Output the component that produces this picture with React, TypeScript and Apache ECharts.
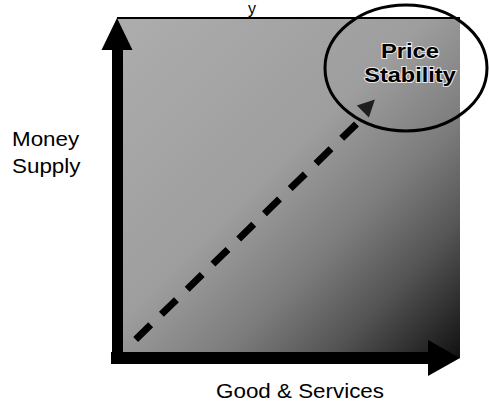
import React, { useEffect, useRef } from "react";
import * as echarts from "echarts";

// Data (in axis units 0–100)
const pathStart: number[] = [6, 6];
const pathEnd: number[] = [77, 76];
const arrowHead: number[] = [81, 82];
const xAxisTitle = "Good & Services";
const yAxisTitle = ["Money", "Supply"];
const targetLabel = ["Price", "Stability"];
const topTitleFragment = "y";

export default function App() {
  const ref = useRef<HTMLDivElement>(null);
  useEffect(() => {
    if (!ref.current) return;
    const chart = echarts.init(ref.current, null, { renderer: "svg" });
    const bg = new echarts.graphic.LinearGradient(0, 0, 1, 1, [
      { offset: 0, color: "#adadad" },
      { offset: 0.45, color: "#9e9e9e" },
      { offset: 0.65, color: "#7c7c7c" },
      { offset: 0.8, color: "#555555" },
      { offset: 1, color: "#111111" },
    ]);
    chart.setOption({
      animation: false,
      backgroundColor: "#ffffff",
      grid: { left: 117, top: 50, right: 61, bottom: 47 },
      xAxis: {
        type: "value",
        min: 0,
        max: 100,
        axisLabel: { show: false },
        axisTick: { show: false },
        splitLine: { show: false },
        axisLine: {
          show: true,
          onZero: false,
          symbol: ["none", "triangle"],
          symbolSize: [36, 32],
          symbolOffset: [0, 16],
          lineStyle: { color: "#000", width: 12, cap: "square" },
        },
      },
      yAxis: {
        type: "value",
        min: 0,
        max: 100,
        axisLabel: { show: false },
        axisTick: { show: false },
        splitLine: { show: false },
        axisLine: {
          show: true,
          onZero: false,
          symbol: ["none", "triangle"],
          symbolSize: [31, 32],
          symbolOffset: [0, 16],
          lineStyle: { color: "#000", width: 11, cap: "square" },
        },
      },
      graphic: [
        {
          type: "rect",
          z: -10,
          shape: { x: 117, y: 18, width: 343, height: 340 },
          style: { fill: bg },
        },
        {
          type: "line",
          z: -9,
          shape: { x1: 117, y1: 18, x2: 460, y2: 18 },
          style: { stroke: "#000", lineWidth: 2 },
        },
        {
          type: "ellipse",
          z: 50,
          shape: { cx: 406, cy: 68, rx: 81, ry: 63 },
          style: { fill: "none", stroke: "#000", lineWidth: 3 },
        },
        {
          type: "text",
          z: 51,
          x: 410,
          y: 40,
          scaleX: 1.13,
          style: {
            text: targetLabel[0],
            font: "bold 21px 'Liberation Sans', Arial, sans-serif",
            fill: "#000",
            stroke: "#e8e8e8",
            lineWidth: 2,
            textAlign: "center",
            textVerticalAlign: "top",
          },
        },
        {
          type: "text",
          z: 51,
          x: 410,
          y: 64,
          scaleX: 1.12,
          style: {
            text: targetLabel[1],
            font: "bold 21px 'Liberation Sans', Arial, sans-serif",
            fill: "#000",
            stroke: "#e8e8e8",
            lineWidth: 2,
            textAlign: "center",
            textVerticalAlign: "top",
          },
        },
        {
          type: "text",
          x: 12,
          y: 129,
          scaleX: 1.12,
          style: {
            text: yAxisTitle[0],
            font: "20px 'Liberation Sans', Arial, sans-serif",
            fill: "#000",
            textAlign: "left",
            textVerticalAlign: "top",
          },
        },
        {
          type: "text",
          x: 12,
          y: 156,
          scaleX: 1.12,
          style: {
            text: yAxisTitle[1],
            font: "20px 'Liberation Sans', Arial, sans-serif",
            fill: "#000",
            textAlign: "left",
            textVerticalAlign: "top",
          },
        },
        {
          type: "text",
          x: 300,
          y: 381,
          scaleX: 1.12,
          style: {
            text: xAxisTitle,
            font: "20px 'Liberation Sans', Arial, sans-serif",
            fill: "#000",
            textAlign: "center",
            textVerticalAlign: "top",
          },
        },
        {
          type: "text",
          x: 252,
          y: 0,
          style: {
            text: topTitleFragment,
            font: "16px 'Liberation Sans', Arial, sans-serif",
            fill: "#000",
            textAlign: "center",
            textVerticalAlign: "top",
          },
        },
      ],
      series: [
        {
          type: "line",
          data: [pathStart, pathEnd],
          symbol: "none",
          lineStyle: { color: "#000", width: 7, type: [21, 15], cap: "butt" },
          z: 5,
        },
        {
          type: "scatter",
          data: [arrowHead],
          symbol: "triangle",
          symbolSize: 17,
          symbolRotate: -45,
          itemStyle: { color: "#000" },
          z: 6,
        },
      ],
    });
    return () => chart.dispose();
  }, []);
  return <div ref={ref} style={{ width: 489, height: 405, position: "absolute", left: 0, top: 0 }} />;
}
